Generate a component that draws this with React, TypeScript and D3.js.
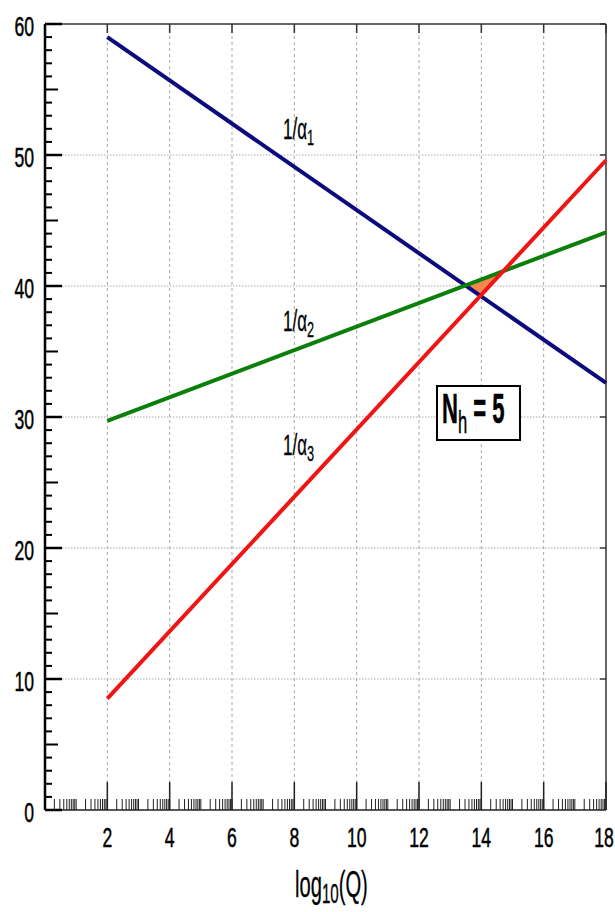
import React from 'react';
import * as d3 from 'd3';

// running couplings vs log10(Q) (end points of each straight line)
const logQ = [2, 18];
const invAlpha1 = [59.0, 32.6];
const invAlpha2 = [29.7, 44.1];
const invAlpha3 = [8.5, 49.6];
const seriesNames = ['1', '2', '3'];
const seriesColors = ['#0b0b7e', '#0a800a', '#f01414'];

const xTickValues = [2, 4, 6, 8, 10, 12, 14, 16, 18];
const yTickValues = [0, 10, 20, 30, 40, 50, 60];
const nh = 5;

const W = 615;
const H = 912;
const FONT = '"Liberation Sans", Arial, Helvetica, sans-serif';

const x = d3.scaleLinear().domain([0, 18]).range([45, 606]);
const y = d3.scaleLinear().domain([0, 60]).range([810, 24]);

// where the 1/alpha labels sit (data coordinates of the baseline start)
const labelPos = [
  [7.64, 51.2],
  [7.64, 36.6],
  [7.64, 27.1],
];

type TxtProps = {
  x: number;
  y: number;
  size: number;
  sx: number;
  sy: number;
  anchor?: string;
  weight?: string;
  thick?: number;
  children: React.ReactNode;
};

// the original lettering is a tall, narrow sans, so squeeze/stretch Liberation Sans
function Txt(props: TxtProps) {
  return (
    <g transform={'translate(' + props.x + ',' + props.y + ') scale(' + props.sx + ',' + props.sy + ')'}>
      <text
        fontFamily={FONT}
        fontSize={props.size}
        fontWeight={props.weight || 'normal'}
        textAnchor={props.anchor || 'start'}
        fill="#000"
        stroke="#000"
        strokeWidth={props.thick || 0.4}
      >
        {props.children}
      </text>
    </g>
  );
}

function intersect(a: number[], b: number[]) {
  const sa = (a[1] - a[0]) / (logQ[1] - logQ[0]);
  const sb = (b[1] - b[0]) / (logQ[1] - logQ[0]);
  const d = (b[0] - a[0]) / (sa - sb);
  return [logQ[0] + d, a[0] + sa * d];
}

export default function App() {
  const series = [invAlpha1, invAlpha2, invAlpha3];
  const line = d3
    .line<number>()
    .x((d, i) => x(logQ[i]))
    .y((d) => y(d));

  const tri = [
    intersect(invAlpha1, invAlpha2),
    intersect(invAlpha2, invAlpha3),
    intersect(invAlpha1, invAlpha3),
  ];
  const triPath = d3
    .line<number[]>()
    .x((d) => x(d[0]))
    .y((d) => y(d[1]))(tri) + 'Z';

  // log-like minor ticks inside every unit of the x axis
  const xMinor: number[] = [];
  for (let n = 0; n < 18; n++) {
    for (let k = 1; k <= 9; k++) xMinor.push(n + Math.log10(k));
  }
  const yMinor = d3.range(1, 60);

  const x0 = x(0), x1 = x(18), y0 = y(0), y1 = y(60);

  return (
    <svg width={W} height={H} style={{ position: 'absolute', left: 0, top: 0, background: '#fff' }}>
      <rect width={W} height={H} fill="#fff" />

      {/* grid */}
      {xTickValues.filter((v) => v < 18).map((v) => (
        <line key={'gx' + v} x1={x(v)} x2={x(v)} y1={y1} y2={y0}
          stroke="#a8a8a8" strokeWidth={1} strokeDasharray="3,3" />
      ))}
      {yTickValues.filter((v) => v > 0 && v < 60).map((v) => (
        <line key={'gy' + v} x1={x0 + 17} x2={x1 - 5} y1={y(v)} y2={y(v)}
          stroke="#a8a8a8" strokeWidth={1} strokeDasharray="1.5,1.5" />
      ))}

      {/* frame */}
      <line x1={x0} x2={x1} y1={y1} y2={y1} stroke="#333" strokeWidth={1.5} />
      <line x1={x1} x2={x1} y1={y1} y2={y0} stroke="#333" strokeWidth={1.5} />
      {xTickValues.map((v) => (
        <line key={'tt' + v} x1={x(v)} x2={x(v)} y1={y1} y2={y1 + 9} stroke="#333" strokeWidth={1.5} />
      ))}
      {yTickValues.filter((v) => v > 0).map((v) => (
        <line key={'rt' + v} x1={x1} x2={x1 - 6} y1={y(v)} y2={y(v)} stroke="#333" strokeWidth={1.5} />
      ))}

      {/* bottom axis */}
      {xMinor.map((v, i) => (
        <line key={'xm' + i} x1={x(v)} x2={x(v)} y1={y0} y2={y0 - 11} stroke="#222" strokeWidth={1} />
      ))}
      {xTickValues.map((v) => (
        <line key={'xt' + v} x1={x(v)} x2={x(v)} y1={y0} y2={y0 - 28} stroke="#222" strokeWidth={1.5} />
      ))}
      <line x1={x0} x2={x1} y1={y0} y2={y0} stroke="#222" strokeWidth={1.5} />

      {/* left axis */}
      {yMinor.map((v) => (
        <line key={'ym' + v} x1={x0} x2={x0 + (v % 5 === 0 ? 13 : 7)} y1={y(v)} y2={y(v)}
          stroke="#000" strokeWidth={2} />
      ))}
      {yTickValues.map((v) => (
        <line key={'yt' + v} x1={x0} x2={x0 + 17} y1={y(v)} y2={y(v)} stroke="#000" strokeWidth={2.5} />
      ))}
      <line x1={x0} x2={x0} y1={y1} y2={y0} stroke="#000" strokeWidth={2.5} />

      {/* tick labels */}
      {yTickValues.map((v) => (
        <Txt key={'yl' + v} x={34} y={y(v) + 12} size={22} sx={0.8} sy={1.27} anchor="end">{v}</Txt>
      ))}
      {xTickValues.map((v) => (
        <Txt key={'xl' + v} x={Math.min(x(v), 604)} y={847} size={22} sx={0.8} sy={1.27} anchor="middle">{v}</Txt>
      ))}
      <Txt x={295} y={897} size={24} sx={0.84} sy={1.5} thick={0.2}>
        log<tspan fontSize={18} dy={4}>10</tspan><tspan dy={-4}>(Q)</tspan>
      </Txt>

      {/* unification triangle */}
      <path d={triPath} fill="#f5874e" stroke="none" />

      {/* coupling lines */}
      {series.map((s, i) => (
        <path key={'s' + i} d={line(s) || ''} fill="none" stroke={seriesColors[i]} strokeWidth={4} />
      ))}

      {seriesNames.map((n, i) => (
        <Txt key={'lab' + n} x={x(labelPos[i][0])} y={y(labelPos[i][1])} size={20} sx={0.85} sy={1.5} thick={0.2}>
          1/α<tspan fontSize={15} dy={4}>{n}</tspan>
        </Txt>
      ))}

      {/* N_h box */}
      <rect x={437} y={386} width={83} height={54} fill="#fff" stroke="#000" strokeWidth={2} />
      <Txt x={442} y={423} size={24} sx={0.92} sy={1.75} weight="bold" thick={0.3}>
        N<tspan fontSize={18} fontWeight="normal" dy={5.5}>h</tspan><tspan dy={-5.5}> = {nh}</tspan>
      </Txt>
    </svg>
  );
}
